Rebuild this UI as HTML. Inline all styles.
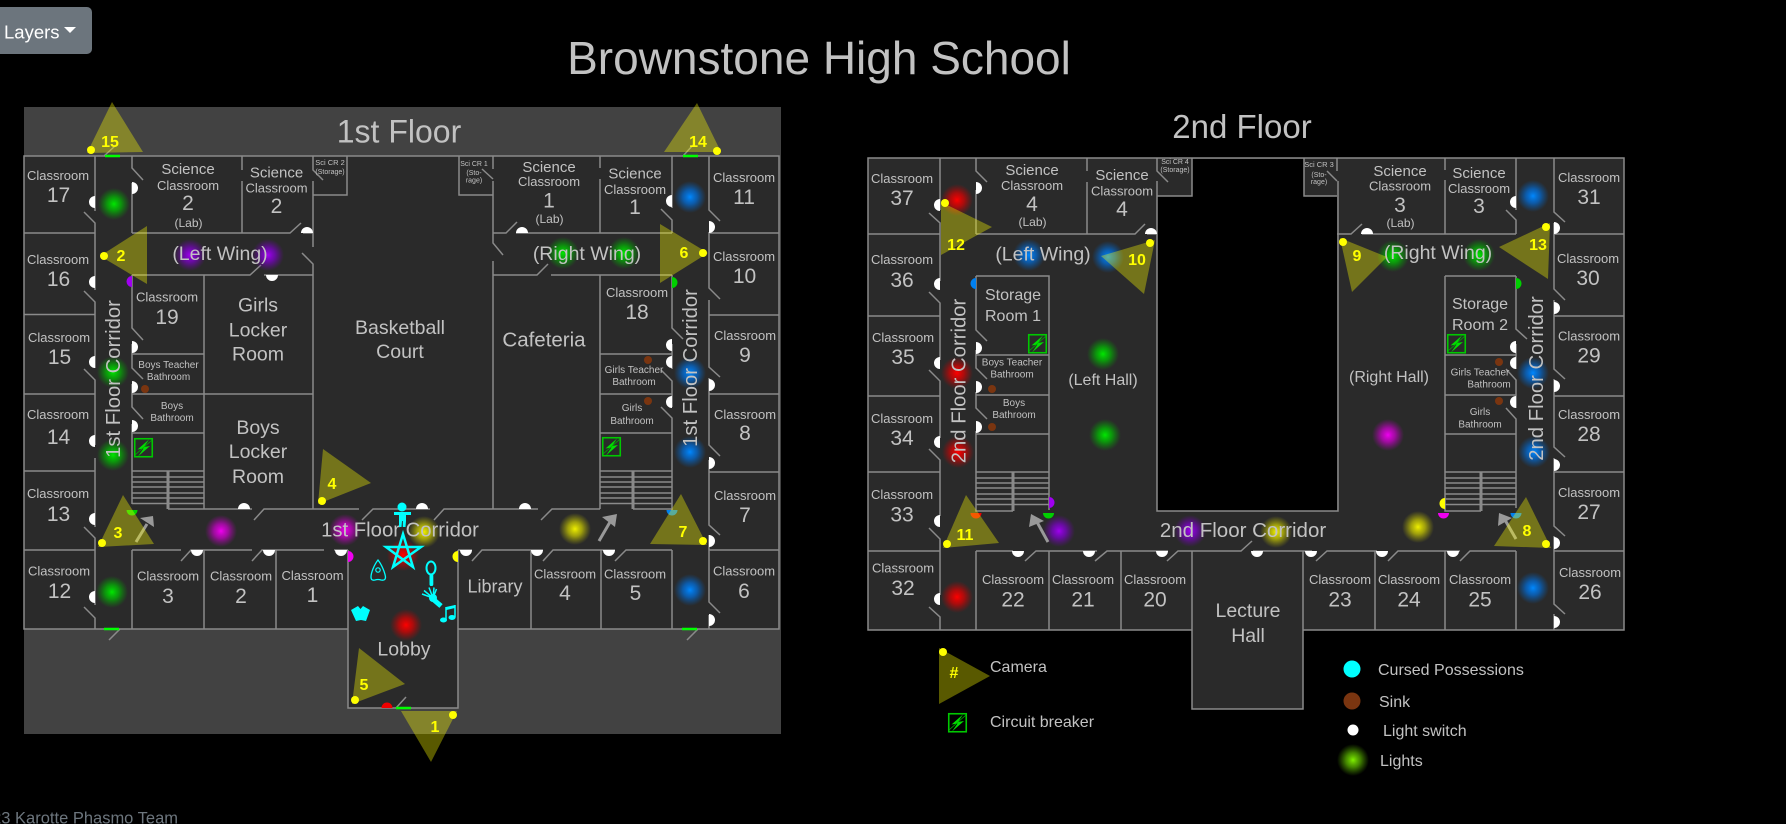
<!DOCTYPE html>
<html lang="en"><head><meta charset="utf-8"><title>Brownstone High School</title>
<style>
html,body{margin:0;padding:0;background:#000;width:1786px;height:824px;overflow:hidden}
svg{display:block}
text{font-family:"Liberation Sans",sans-serif;fill:#c2c2c2;text-anchor:middle}
.c{font-size:13px}.n{font-size:21px}.s{font-size:15px}.l{font-size:12px}.b{font-size:10px}.t{font-size:7px}
.r{font-size:19.5px}.h{font-size:16px}.v{font-size:20.3px}.g{font-size:16px;text-anchor:start}
.cam{fill:#ff0;font-weight:bold;font-size:16px}
.w{fill:none;stroke:#8a8a8a;stroke-width:1.5}
</style></head><body>
<svg width="1786" height="824" viewBox="0 0 1786 824" xmlns="http://www.w3.org/2000/svg">
<defs>
<radialGradient id="lg"><stop offset="0" stop-color="#00e800"/><stop offset=".45" stop-color="#00c000" stop-opacity=".7"/><stop offset="1" stop-color="#00a000" stop-opacity="0"/></radialGradient>
<radialGradient id="lp"><stop offset="0" stop-color="#a000f0"/><stop offset=".45" stop-color="#8000d0" stop-opacity=".7"/><stop offset="1" stop-color="#7000b0" stop-opacity="0"/></radialGradient>
<radialGradient id="lm"><stop offset="0" stop-color="#f000f0"/><stop offset=".45" stop-color="#d000d0" stop-opacity=".7"/><stop offset="1" stop-color="#b000b0" stop-opacity="0"/></radialGradient>
<radialGradient id="ly"><stop offset="0" stop-color="#f0f000"/><stop offset=".45" stop-color="#d0d000" stop-opacity=".7"/><stop offset="1" stop-color="#b0b000" stop-opacity="0"/></radialGradient>
<radialGradient id="lr"><stop offset="0" stop-color="#ff0000"/><stop offset=".45" stop-color="#e00000" stop-opacity=".7"/><stop offset="1" stop-color="#c00000" stop-opacity="0"/></radialGradient>
<radialGradient id="lb"><stop offset="0" stop-color="#0088ff"/><stop offset=".45" stop-color="#0070e0" stop-opacity=".7"/><stop offset="1" stop-color="#0060c0" stop-opacity="0"/></radialGradient>
<radialGradient id="ll"><stop offset="0" stop-color="#80f000"/><stop offset=".45" stop-color="#60c000" stop-opacity=".7"/><stop offset="1" stop-color="#50a000" stop-opacity="0"/></radialGradient>
<g id="cb"><rect x=".75" y=".75" width="17.5" height="18" fill="none" stroke="#00c800" stroke-width="1.6"/><path d="M15 1.500 3.500 11.500 9.500 10.500 4 18.500 16 8 10 9z" fill="#00e000"/><path d="M1 17 18 2" stroke="#00b000" stroke-width=".8"/></g>
</defs>

<!-- Button -->
<rect x="-10" y="7" width="102" height="47" rx="5" fill="#6c757d"/>
<text x="4" y="38.500" style="text-anchor:start;font-size:18.500px;fill:#fff">Layers</text>
<path d="M64 27H76L70 33Z" fill="#fff"/>

<text x="819" y="74" style="font-size:46px">Brownstone High School</text>
<text x="178" y="823.500" style="font-size:16.500px;fill:#6c757d;text-anchor:end">© 2023 Karotte Phasmo Team</text>

<!-- Floors -->
<rect x="24" y="107" width="757" height="627" fill="#424242"/>
<path d="M24 156H779V629H458V708H348V629H24Z" fill="#2a2a2a"/>
<path d="M868 158H1624V630H1303V709H1192V630H868Z" fill="#2a2a2a"/>
<path d="M1192 159H1304V196H1337V511H1157V196H1192Z" fill="#000"/>

<!-- Walls floor 1 -->
<path class="w" d="M24 156H779V629H458V708H348V629H24Z
M95 156V211M84 212L95 223V290M84 291L95 302V368M84 369L95 380V445M95 458V527M84 527L95 538V605M84 607L95 618V629
M132 156V168L143 180M132 183V233M132 275V328L143 340M132 344V368L143 379M132 384V407L143 419M132 424V504M132 550V629
M24 233H95M24 314.500H95M24 394H95M24 471H95M24 550H95M709 233H779M709 315H779M709 394H779M709 472H779M709 550H779
M132 233H290L301 223M303 233H313M242 156V170M242 181V233M313 156V170L323 180M313 181V247M302 253L313 264V509M313 195H347V156
M132 275H250L261 265M264 275H313M204 275V509M132 354H204M132 394H313M132 433H204M132 471H204
M132 477H204M132 482H204M132 487H204M132 493H204M132 498H204M132 503.500H204
M168 509H252M254 520L264 509H359M362 520L373 509H430M434 520L444 509H538M541 520L552 509H600
M482 169L493 179M493 156V169M493 181V243L503 255M493 261V509M459 156V195H493
M493 233H506L517 222M516 233H672M493 275H537L548 264M551 275H672M600 156V168M600 179V233M600 275V509
M600 354H672M600 394H672M600 433H672M600 471H672M600 477H672M600 482H672M600 487H672M600 493H672M600 498H672M600 503.500H672M633 509H672
M672 156V208M661 209L672 220V233M672 275V328L683 339M672 344V369M661 370L672 381V407M661 407L672 418V510M672 550V629
M709 156V210L720 221M709 232V288L720 299M709 300V367L720 377M709 378V445L720 456M709 460V525L720 535M709 535V602L720 613M709 615V629
M132 550H181M181 561L191 550H252M252 561L262 550H324M334 550H348M204 550V629M276 550V629M348 550V629
M458 550H472M472 561L482 550H543M543 561L553 550H615M615 561L626 550H672M458 550V629M531 550V629M601 550V629
M396 708L406 697M104 156L115 146M109 640L120 629M683 156L693 145M687 640L698 629"/>
<path d="M168 471V509M633 471V509" stroke="#8a8a8a" stroke-width="3" fill="none"/>

<!-- Walls floor 2 -->
<path class="w" d="M868 158H1624V630H1303V709H1192V630H868Z
M868 234H940M868 316H940M868 396H940M868 472H940M868 551H940M1554 234H1624M1554 316H1624M1554 396H1624M1554 472H1624M1554 551H1624
M940 158V210M929 213L940 223V281M929 292L940 303V360M929 370L940 381V438M929 449L940 460V516M929 528L940 539V595M929 607L940 617V630
M976 158V171L987 182M976 190V234M976 276V330L987 341M976 350V368L987 379M976 392V408L987 419M976 431V511H1013M976 551V630
M976 234H1135L1145 224M1147 234H1157M1087 158V171M1087 182V234
M1157 158V171L1168 182M1157 181V511H1338V181M1157 196H1192V158M1304 158V196H1337M1337 158V171M1327 171L1337 181
M976 276H1049V510M976 355H1049M976 395H1049M976 434H1049M976 472H1049M976 478H1049M976 483H1049M976 488H1049M976 494H1049M976 499H1049M976 504.500H1049
M976 551H1013M1025 561L1036 551H1097M1095 561L1107 551H1168M1167 561L1178 551H1241L1252 541M1253 551H1312M1316 561L1327 551H1377M1388 561L1398 551H1460M1460 561L1470 551H1516
M1049 551V630M1121 551V630M1192 551V630M1303 551V630M1375 551V630M1445 551V630M1516 551V630
M1337 234H1351L1362 224M1362 234H1516M1445 158V170M1445 180V234M1516 158V210M1506 210L1516 220V234
M1445 276H1516M1445 355H1516M1445 395H1516M1445 434H1516M1445 472H1516M1445 276V511H1481M1445 478H1516M1445 483H1516M1445 488H1516M1445 494H1516M1445 499H1516M1445 504.500H1516
M1516 276V329L1527 339M1516 344V369M1506 369L1516 380V408M1506 408L1516 419V508
M1554 158V212L1565 222M1554 223V289L1565 300M1554 300V369L1565 379M1554 379V447L1565 457M1554 458V526L1565 536M1554 536V604L1565 614M1554 614V630"/>
<path d="M1013 472V511M1481 472V511" stroke="#8a8a8a" stroke-width="3" fill="none"/>

<!-- Green doors -->
<path d="M105 156H120M104 629H119M683 156H698M682 629H697M396 708H411" stroke="#00ff00" stroke-width="2.500" fill="none"/>

<!-- Lights -->
<g>
<circle cx="114" cy="204" r="16" fill="url(#lg)"/><circle cx="190" cy="255" r="16" fill="url(#lp)"/><circle cx="268" cy="255" r="16" fill="url(#lp)"/>
<circle cx="113" cy="372" r="16" fill="url(#lg)"/><circle cx="113" cy="455" r="16" fill="url(#lg)"/><circle cx="221" cy="531" r="16" fill="url(#lm)"/>
<circle cx="112" cy="592" r="16" fill="url(#lg)"/><circle cx="345" cy="530" r="16" fill="url(#lm)"/><circle cx="424" cy="532" r="16" fill="url(#ly)"/>
<circle cx="403" cy="555" r="16" fill="url(#lr)"/><circle cx="406" cy="625" r="16" fill="url(#lr)"/><circle cx="575" cy="529" r="16" fill="url(#ly)"/>
<circle cx="690" cy="590" r="16" fill="url(#lb)"/><circle cx="690" cy="197" r="16" fill="url(#lb)"/><circle cx="563" cy="253" r="16" fill="url(#lg)"/>
<circle cx="624" cy="253" r="16" fill="url(#lg)"/><circle cx="690" cy="373" r="16" fill="url(#lb)"/><circle cx="690" cy="452" r="16" fill="url(#lb)"/>
<circle cx="957" cy="200" r="16" fill="url(#lr)"/><circle cx="1029" cy="255" r="16" fill="url(#lb)"/><circle cx="1108" cy="257" r="16" fill="url(#lb)"/>
<circle cx="1103" cy="354" r="16" fill="url(#lg)"/><circle cx="1105" cy="435" r="16" fill="url(#lg)"/><circle cx="957" cy="373" r="16" fill="url(#lr)"/>
<circle cx="958" cy="452" r="16" fill="url(#lr)"/><circle cx="957" cy="597" r="16" fill="url(#lr)"/><circle cx="1059" cy="531" r="16" fill="url(#lp)"/>
<circle cx="1190" cy="531" r="16" fill="url(#lp)"/><circle cx="1393" cy="256" r="16" fill="url(#lg)"/><circle cx="1479" cy="255" r="16" fill="url(#lg)"/>
<circle cx="1533" cy="196" r="16" fill="url(#lb)"/><circle cx="1533" cy="373" r="16" fill="url(#lb)"/><circle cx="1534" cy="452" r="16" fill="url(#lb)"/>
<circle cx="1388" cy="435" r="16" fill="url(#lm)"/><circle cx="1276" cy="532" r="16" fill="url(#ly)"/><circle cx="1418" cy="527" r="16" fill="url(#ly)"/>
<circle cx="1533" cy="588" r="16" fill="url(#lb)"/><circle cx="1353" cy="760" r="16" fill="url(#ll)"/>
</g>

<!-- Light switches -->
<path fill="#fff" d="M95 196a6 6 0 0 0 0 12zM95 276a6 6 0 0 0 0 12zM95 356a6 6 0 0 0 0 12zM95 435a6 6 0 0 0 0 12zM95 513a6 6 0 0 0 0 12zM95 591a6 6 0 0 0 0 12z
M132 182a6 6 0 0 1 0 12zM132 341a6 6 0 0 1 0 12zM132 381a6 6 0 0 1 0 12zM132 420a6 6 0 0 1 0 12z
M301 233a6 6 0 0 1 12 0zM266 275a6 6 0 0 0 12 0zM238 509a6 6 0 0 1 12 0zM416 509a6 6 0 0 1 12 0zM519 509a6 6 0 0 1 12 0z
M191 550a6 6 0 0 0 12 0zM263 550a6 6 0 0 0 12 0zM335 550a6 6 0 0 0 12 0zM460 550a6 6 0 0 0 12 0zM531 550a6 6 0 0 0 12 0zM603 550a6 6 0 0 0 12 0z
M709 221a6 6 0 0 1 0 12zM709 379a6 6 0 0 1 0 12zM709 457a6 6 0 0 1 0 12zM709 535a6 6 0 0 1 0 12zM709 614a6 6 0 0 1 0 12z
M672 195a6 6 0 0 0 0 12zM672 339a6 6 0 0 0 0 12zM672 356a6 6 0 0 0 0 12zM672 396a6 6 0 0 0 0 12zM516 233a6 6 0 0 1 12 0z
M940 199a6 6 0 0 0 0 12zM940 278a6 6 0 0 0 0 12zM940 357a6 6 0 0 0 0 12zM940 436a6 6 0 0 0 0 12zM940 515a6 6 0 0 0 0 12zM940 593a6 6 0 0 0 0 12z
M976 182a6 6 0 0 1 0 12zM976 342a6 6 0 0 1 0 12zM976 381a6 6 0 0 1 0 12zM976 421a6 6 0 0 1 0 12zM1145 234a6 6 0 0 1 12 0z
M1012 551a6 6 0 0 0 12 0zM1083 551a6 6 0 0 0 12 0zM1156 551a6 6 0 0 0 12 0zM1251 551a6 6 0 0 0 12 0zM1305 551a6 6 0 0 0 12 0zM1376 551a6 6 0 0 0 12 0zM1447 551a6 6 0 0 0 12 0z
M1516 196a6 6 0 0 0 0 12zM1516 341a6 6 0 0 0 0 12zM1516 357a6 6 0 0 0 0 12zM1516 396a6 6 0 0 0 0 12z
M1554 222a6 6 0 0 1 0 12zM1554 302a6 6 0 0 1 0 12zM1554 380a6 6 0 0 1 0 12zM1554 459a6 6 0 0 1 0 12zM1554 537a6 6 0 0 1 0 12zM1554 616a6 6 0 0 1 0 12zM1361 234a6 6 0 0 1 12 0z"/>

<!-- Coloured half circles -->
<path fill="#a000f0" d="M132 276a5.500 5.500 0 0 0 0 11zM1049 497a5.500 5.500 0 0 1 0 11z"/>
<path fill="#00d000" d="M672 277a5.500 5.500 0 0 1 0 11zM126.500 510a5.500 5.500 0 0 0 11 0zM1043 513a5.500 5.500 0 0 0 11 0zM1516 278a5.500 5.500 0 0 1 0 11z"/>
<path fill="#f000f0" d="M348 551a5.500 5.500 0 0 1 0 11zM1438 513a5.500 5.500 0 0 0 11 0z"/>
<path fill="#ffff00" d="M458 551a5.500 5.500 0 0 0 0 11zM1445 498a5.500 5.500 0 0 0 0 11z"/>
<path fill="#f00000" d="M381.500 708a5.500 5.500 0 0 1 11 0zM970.500 513a5.500 5.500 0 0 0 11 0z"/>
<path fill="#0080f0" d="M666.500 510a5.500 5.500 0 0 0 11 0zM976 278a5.500 5.500 0 0 0 0 11zM1510.500 513a5.500 5.500 0 0 0 11 0z"/>

<!-- Sinks -->
<g fill="#7a3510"><circle cx="145" cy="389" r="4"/><circle cx="648" cy="360" r="4"/><circle cx="648" cy="401" r="4"/><circle cx="992" cy="389" r="4"/><circle cx="992" cy="427" r="4"/><circle cx="1499" cy="362" r="4"/><circle cx="1499" cy="401" r="4"/></g>

<!-- Circuit breakers -->
<use href="#cb" x="134" y="438"/><use href="#cb" x="602" y="437"/><use href="#cb" x="1028" y="334"/><use href="#cb" x="1447" y="334"/><use href="#cb" x="948" y="713"/>

<!-- Arrows -->
<g fill="#999" stroke="none">
<path d="M136 542 147 524" stroke="#999" stroke-width="3"/><path d="M140 518 153 516 154 527Z"/>
<path d="M599 541 610 522" stroke="#999" stroke-width="3"/><path d="M602 517 617 514 615 527Z"/>
<path d="M1048 542 1037 522" stroke="#999" stroke-width="3"/><path d="M1029 527 1031 514 1044 521Z"/>
<path d="M1516 539 1505 520" stroke="#999" stroke-width="3"/><path d="M1498 526 1499 513 1512 518Z"/>
</g>

<!-- Labels floor 1 -->
<text x="399" y="142.500" style="font-size:32px">1st Floor</text>
<text class="c" x="58" y="180">Classroom</text><text class="n" x="58.500" y="202">17</text>
<text class="c" x="58" y="264">Classroom</text><text class="n" x="58.500" y="286">16</text>
<text class="c" x="59" y="342">Classroom</text><text class="n" x="59.500" y="364">15</text>
<text class="c" x="58" y="419">Classroom</text><text class="n" x="58.500" y="444">14</text>
<text class="c" x="58" y="498">Classroom</text><text class="n" x="58.500" y="521">13</text>
<text class="c" x="59" y="575.500">Classroom</text><text class="n" x="59.500" y="598">12</text>
<text class="c" x="168" y="580.500">Classroom</text><text class="n" x="168" y="603">3</text>
<text class="c" x="241" y="580.500">Classroom</text><text class="n" x="241" y="603">2</text>
<text class="c" x="312.500" y="580">Classroom</text><text class="n" x="312.500" y="602">1</text>
<text class="s" x="188" y="174">Science</text><text class="c" x="188" y="190">Classroom</text><text class="n" x="188" y="210">2</text><text class="l" x="188.500" y="227">(Lab)</text>
<text class="s" x="276.500" y="177.500">Science</text><text class="c" x="276.500" y="192.500">Classroom</text><text class="n" x="276.500" y="213">2</text>
<text class="t" x="330" y="165" style="font-size:7.500px">Sci CR 2</text><text class="t" x="330" y="174">(Storage)</text>
<text class="r" x="220" y="260">(Left Wing)</text>
<text class="c" x="167" y="301.500">Classroom</text><text class="n" x="167" y="324">19</text>
<text class="r" x="258" y="311.500">Girls</text><text class="r" x="258" y="336.500">Locker</text><text class="r" x="258" y="360.500">Room</text>
<text class="r" x="258" y="434">Boys</text><text class="r" x="258" y="458">Locker</text><text class="r" x="258" y="483">Room</text>
<text class="r" x="400" y="334">Basketball</text><text class="r" x="400" y="358">Court</text>
<text class="b" x="168.500" y="368">Boys Teacher</text><text class="b" x="168.500" y="380">Bathroom</text>
<text class="b" x="172" y="409">Boys</text><text class="b" x="172" y="421">Bathroom</text>
<text x="400" y="536.500" style="font-size:20.300px">1st Floor Corridor</text>
<text class="v" transform="translate(120 379) rotate(-90)">1st Floor Corridor</text>
<text class="v" transform="translate(697 368) rotate(-90)">1st Floor Corridor</text>
<text x="495" y="592.500" style="font-size:18px">Library</text>
<text class="c" x="565" y="578.500">Classroom</text><text class="n" x="565" y="600">4</text>
<text class="c" x="635" y="578.500">Classroom</text><text class="n" x="635.500" y="600">5</text>
<text class="c" x="744" y="575.500">Classroom</text><text class="n" x="744" y="598">6</text>
<text class="c" x="745" y="500">Classroom</text><text class="n" x="745" y="522">7</text>
<text class="r" x="404" y="655.500">Lobby</text>
<text class="s" x="549" y="172">Science</text><text class="c" x="549" y="186">Classroom</text><text class="n" x="549" y="207.500">1</text><text class="l" x="549.500" y="223">(Lab)</text>
<text class="s" x="635" y="178.500">Science</text><text class="c" x="635" y="194">Classroom</text><text class="n" x="635" y="214">1</text>
<text class="t" x="474" y="166">Sci CR 1</text><text class="t" x="474" y="175">(Sto-</text><text class="t" x="474" y="182.500">rage)</text>
<text class="c" x="744" y="182">Classroom</text><text class="n" x="744" y="204">11</text>
<text class="c" x="744" y="261">Classroom</text><text class="n" x="744.500" y="283">10</text>
<text class="c" x="745" y="340">Classroom</text><text class="n" x="745" y="362">9</text>
<text class="c" x="745" y="419">Classroom</text><text class="n" x="745" y="440">8</text>
<text class="r" x="587" y="260">(Right Wing)</text>
<text x="544" y="346.500" style="font-size:20.500px">Cafeteria</text>
<text class="c" x="637" y="297">Classroom</text><text class="n" x="637" y="319">18</text>
<text class="b" x="634" y="373">Girls Teacher</text><text class="b" x="634" y="385">Bathroom</text>
<text class="b" x="632" y="411">Girls</text><text class="b" x="632" y="424">Bathroom</text>

<!-- Labels floor 2 -->
<text x="1242" y="138" style="font-size:33px">2nd Floor</text>
<text class="c" x="902" y="183">Classroom</text><text class="n" x="902" y="205">37</text>
<text class="c" x="902" y="264">Classroom</text><text class="n" x="902" y="287">36</text>
<text class="c" x="903" y="342">Classroom</text><text class="n" x="903" y="364">35</text>
<text class="c" x="902" y="423">Classroom</text><text class="n" x="902" y="445">34</text>
<text class="c" x="902" y="499">Classroom</text><text class="n" x="902" y="521.500">33</text>
<text class="c" x="903" y="572.500">Classroom</text><text class="n" x="903" y="595">32</text>
<text class="s" x="1032" y="175">Science</text><text class="c" x="1032" y="190">Classroom</text><text class="n" x="1032" y="211">4</text><text class="l" x="1032.500" y="226">(Lab)</text>
<text class="s" x="1122" y="180">Science</text><text class="c" x="1122" y="195.500">Classroom</text><text class="n" x="1122" y="216">4</text>
<text class="t" x="1175" y="164">Sci CR 4</text><text class="t" x="1175" y="172">(Storage)</text>
<text class="r" x="1043" y="260.500">(Left Wing)</text>
<text class="h" x="1013" y="300">Storage</text><text class="h" x="1013" y="321">Room 1</text>
<text class="b" x="1012" y="365.500">Boys Teacher</text><text class="b" x="1012" y="377.500">Bathroom</text>
<text class="b" x="1014" y="406">Boys</text><text class="b" x="1014" y="418">Bathroom</text>
<text class="h" x="1103" y="385">(Left Hall)</text>
<text class="v" transform="translate(965.500 381) rotate(-90)">2nd Floor Corridor</text>
<text class="v" transform="translate(1543 378.500) rotate(-90)">2nd Floor Corridor</text>
<text x="1243" y="537" style="font-size:20.500px">2nd Floor Corridor</text>
<text class="c" x="1013" y="584">Classroom</text><text class="n" x="1013" y="606.500">22</text>
<text class="c" x="1083" y="584">Classroom</text><text class="n" x="1083" y="606.500">21</text>
<text class="c" x="1155" y="584">Classroom</text><text class="n" x="1155" y="606.500">20</text>
<text class="c" x="1340" y="584">Classroom</text><text class="n" x="1340" y="606.500">23</text>
<text class="c" x="1409" y="584">Classroom</text><text class="n" x="1409" y="606.500">24</text>
<text class="c" x="1480" y="584">Classroom</text><text class="n" x="1480" y="606.500">25</text>
<text class="c" x="1590" y="577">Classroom</text><text class="n" x="1590" y="599">26</text>
<text class="c" x="1589" y="497">Classroom</text><text class="n" x="1589" y="519">27</text>
<text class="c" x="1589" y="419">Classroom</text><text class="n" x="1589" y="441">28</text>
<text class="c" x="1589" y="340.500">Classroom</text><text class="n" x="1589" y="362.500">29</text>
<text class="c" x="1588" y="263">Classroom</text><text class="n" x="1588" y="285">30</text>
<text class="c" x="1589" y="182">Classroom</text><text class="n" x="1589" y="204">31</text>
<text class="s" x="1400" y="176">Science</text><text class="c" x="1400" y="190.500">Classroom</text><text class="n" x="1400" y="212">3</text><text class="l" x="1400.500" y="227">(Lab)</text>
<text class="s" x="1479" y="178">Science</text><text class="c" x="1479" y="193">Classroom</text><text class="n" x="1479" y="213">3</text>
<text class="t" x="1319" y="167" style="font-size:7.500px">Sci CR 3</text><text class="t" x="1319" y="177">(Sto-</text><text class="t" x="1319" y="184">rage)</text>
<text class="r" x="1438" y="259">(Right Wing)</text>
<text class="h" x="1480" y="309">Storage</text><text class="h" x="1480" y="330">Room 2</text>
<text class="b" x="1480" y="375.500">Girls Teacher</text><text class="b" x="1489" y="387.500">Bathroom</text>
<text class="b" x="1480" y="415">Girls</text><text class="b" x="1480" y="427.500">Bathroom</text>
<text class="h" x="1389" y="382">(Right Hall)</text>
<text class="r" x="1248" y="617">Lecture</text><text class="r" x="1248" y="642">Hall</text>

<!-- Legend -->
<text class="g" x="990" y="672">Camera</text>
<text class="g" x="990" y="727">Circuit breaker</text>
<text class="g" x="1378" y="675">Cursed Possessions</text>
<text class="g" x="1379" y="707">Sink</text>
<text class="g" x="1383" y="736">Light switch</text>
<text class="g" x="1380" y="766">Lights</text>
<circle cx="1352" cy="669" r="8.500" fill="#0ff"/>
<circle cx="1352" cy="701" r="8.500" fill="#7a3510"/>
<circle cx="1353" cy="730" r="5.500" fill="#fff"/>

<!-- Cursed possessions -->
<g fill="#0ff" stroke="none">
<circle cx="402" cy="507" r="4.500"/>
<path d="M394 512H411V515H406V521L405.500 527H402.800V521H402L401.500 527H399V521L399 515H394Z"/>
<path d="M403 534 413 567 386 547H421L393 567Z" fill="none" stroke="#0ff" stroke-width="2.500" stroke-linejoin="miter"/>
<path d="M378 560C374 565 371 573 371 577Q371 581 375 580Q378 579 381 580Q385.500 581 385.500 577C385 573 382 565 378 560Z" fill="none" stroke="#0ff" stroke-width="1.300"/>
<circle cx="378" cy="570" r="2.200" fill="none" stroke="#0ff" stroke-width="1.200"/>
<ellipse cx="431" cy="568" rx="4.500" ry="6.500" fill="none" stroke="#0ff" stroke-width="2"/>
<rect x="429.500" y="574" width="3.800" height="12" rx="1.800"/>
<circle cx="433" cy="598" r="4"/>
<path d="M433 598 422 594M433 598 424 590.500M433 598 429 587.500M433 598 434 587.500M433 598 436.500 589" stroke="#0ff" stroke-width="1.500"/>
<path d="M434 600 441 606" stroke="#0ff" stroke-width="5"/>
<path d="M446 607 455 605V608L446.500 610Z"/>
<path d="M446 607V620M455 605V617.500" stroke="#0ff" stroke-width="1.500"/>
<ellipse cx="443.500" cy="620" rx="3.500" ry="2.500"/><ellipse cx="452" cy="617.500" rx="3.500" ry="2.500"/>
<path d="M351 610 358 606 360.500 609 363 606 370 610 366 621 361 620 356 621Z"/>
</g>

<!-- Cameras -->
<g fill="#ff0" fill-opacity=".35">
<path d="M112 102 143 152 87 153Z"/><path d="M100 256 147 226V284Z"/><path d="M123 495 154 544 98 547Z"/>
<path d="M323 449 371 483 318 504Z"/><path d="M359 648 405 684 352 704Z"/><path d="M401 711H457L431 762Z"/>
<path d="M681 494 707 545 650 544Z"/><path d="M660 224 708 253 660 283Z"/><path d="M697 103 721 152H664Z"/>
<path d="M941 202 992 227 941 255Z"/><path d="M1155 240 1101 256 1144 294Z"/><path d="M1340 238 1387 257 1352 292Z"/>
<path d="M1550 223 1499 247 1548 279Z"/><path d="M966 495 999 543 943 548Z"/><path d="M1526 497 1551 548 1494 546Z"/>
<path d="M939 648 990 676 939 704Z"/>
</g>
<g fill="#ff0">
<circle cx="91" cy="150" r="4"/><circle cx="104" cy="256" r="4"/><circle cx="102" cy="543" r="4"/><circle cx="322" cy="501" r="4"/>
<circle cx="355" cy="700" r="4"/><circle cx="453" cy="715" r="4"/><circle cx="703" cy="541" r="4"/><circle cx="703" cy="253" r="4"/>
<circle cx="717" cy="151" r="4"/><circle cx="945" cy="203" r="4"/><circle cx="1150" cy="243" r="4"/><circle cx="1343" cy="242" r="4"/>
<circle cx="1546" cy="227" r="4"/><circle cx="947" cy="544" r="4"/><circle cx="1546" cy="544" r="4"/><circle cx="943" cy="652" r="4"/>
</g>
<text class="cam" x="110" y="147">15</text><text class="cam" x="121" y="261">2</text><text class="cam" x="118" y="538">3</text>
<text class="cam" x="332" y="489">4</text><text class="cam" x="364" y="690">5</text><text class="cam" x="435" y="732">1</text>
<text class="cam" x="683" y="537">7</text><text class="cam" x="684" y="258">6</text><text class="cam" x="698" y="147">14</text>
<text class="cam" x="956" y="250">12</text><text class="cam" x="1137" y="265">10</text><text class="cam" x="1357" y="261">9</text>
<text class="cam" x="1538" y="250">13</text><text class="cam" x="965" y="540">11</text><text class="cam" x="1527" y="536">8</text>
<text class="cam" x="954" y="678">#</text>
</svg>
</body></html>
